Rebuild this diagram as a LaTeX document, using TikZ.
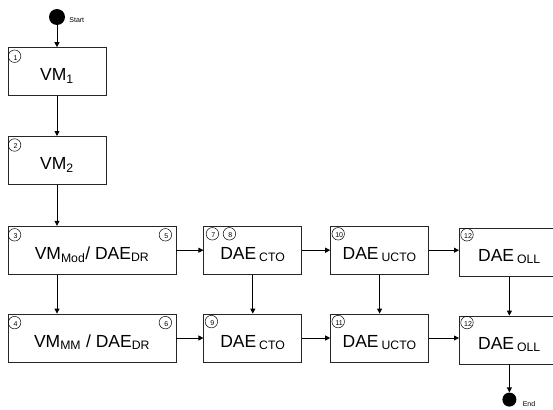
\documentclass[tikz,border=0pt]{standalone}
\usepackage{fontspec}
\setmainfont{Liberation Sans}
\usetikzlibrary{arrows.meta,positioning}

\begin{document}
\begin{tikzpicture}[
  x=1pt, y=1pt,
  font=\fontsize{17.5}{20}\selectfont,
  >={Triangle[length=5pt,width=5pt]},
  stage/.style={draw=black!85, line width=0.8pt, minimum width=98pt,
                minimum height=48pt, inner sep=0pt, text height=18pt, text depth=0pt},
  widestage/.style={stage, minimum width=168pt},
  dot/.style={circle, fill=black, inner sep=0pt, minimum size=16pt},
  flow/.style={->, line width=0.8pt},
  tag/.style={circle, draw, line width=0.5pt, minimum size=12.5pt, inner sep=0pt},
  tagnum/.style={font=\fontsize{7}{8}\selectfont, inner sep=0pt, xshift=1pt, yshift=-1.5pt},
  smalltxt/.style={font=\fontsize{7}{8}\selectfont, inner sep=0pt, anchor=west},
]
\useasboundingbox (0,0) rectangle (553,-409);

% start and the VM column
\node[dot, label={[smalltxt, xshift=4pt, yshift=-3pt]east:Start}] (start) at (57,-17) {};
\node[stage, below=22pt of start] (vm1) {VM\textsubscript{1}};
\node[stage, below=40pt of vm1] (vm2) {VM\textsubscript{2}};
\node[widestage, below=41pt of vm2.south west, anchor=north west] (vmmod)
  {VM\textsubscript{Mod}/ DAE\textsubscript{DR}};
\node[widestage, below=39pt of vmmod] (vmmm)
  {VM\textsubscript{MM} / DAE\textsubscript{DR}};

% upper row
\node[stage, right=27pt of vmmod] (ctoA) {DAE\,\textsubscript{CTO}};
\node[stage, right=28pt of ctoA] (uctoA) {DAE\,\textsubscript{UCTO}};
\node[stage, minimum width=100pt, right=30pt of uctoA, yshift=-2pt] (ollA) {DAE\,\textsubscript{OLL}};

% lower row
\node[stage, right=27pt of vmmm] (ctoB) {DAE\,\textsubscript{CTO}};
\node[stage, right=28pt of ctoB] (uctoB) {DAE\,\textsubscript{UCTO}};
\node[stage, minimum width=100pt, right=30pt of uctoB, yshift=-2pt] (ollB) {DAE\,\textsubscript{OLL}};

\node[dot, minimum size=14pt, label={[smalltxt, xshift=6pt, yshift=-4pt]east:End},
      below=28pt of ollB] (end) {};

% numbered tags
\node[tag, label={[tagnum]center:1}] (t1) at ([xshift=7pt, yshift=-9pt]vm1.north west) {};
\node[tag, label={[tagnum]center:2}] (t2) at ([xshift=7pt, yshift=-9pt]vm2.north west) {};
\node[tag, label={[tagnum]center:3}] (t3) at ([xshift=7pt, yshift=-9pt]vmmod.north west) {};
\node[tag, label={[tagnum]center:5}] (t5) at ([xshift=-11pt, yshift=-9pt]vmmod.north east) {};
\node[tag, label={[tagnum]center:4}] (t4) at ([xshift=7pt, yshift=-9pt]vmmm.north west) {};
\node[tag, label={[tagnum]center:6}] (t6) at ([xshift=-11pt, yshift=-9pt]vmmm.north east) {};
\node[tag, label={[tagnum]center:7}] (t7) at ([xshift=9pt, yshift=-8pt]ctoA.north west) {};
\node[tag, label={[tagnum]center:8}] (t8) at ([xshift=26pt, yshift=-8pt]ctoA.north west) {};
\node[tag, label={[tagnum]center:9}] (t9) at ([xshift=8pt, yshift=-8pt]ctoB.north west) {};
\node[tag, label={[tagnum]center:10}] (t10) at ([xshift=8pt, yshift=-8pt]uctoA.north west) {};
\node[tag, label={[tagnum]center:11}] (t11) at ([xshift=8pt, yshift=-8pt]uctoB.north west) {};
\node[tag, label={[tagnum]center:12}] (t12) at ([xshift=8pt, yshift=-7pt]ollA.north west) {};
\node[tag, label={[tagnum]center:12}] (t12b) at ([xshift=8pt, yshift=-7pt]ollB.north west) {};

% connectors
\draw[flow] (start) -- (vm1);
\draw[flow] (vm1) -- (vm2);
\draw[flow] (vm2) -- (vm2 |- vmmod.north);
\draw[flow] (vm2 |- vmmod.south) -- (vm2 |- vmmm.north);
\draw[flow] (vmmod) -- (ctoA);
\draw[flow] (ctoA) -- (uctoA);
\draw[flow] (uctoA.east) -- (uctoA.east -| ollA.west);
\draw[flow] (vmmm) -- (ctoB);
\draw[flow] (ctoB) -- (uctoB);
\draw[flow] (uctoB.east) -- (uctoB.east -| ollB.west);
\draw[flow] (ctoA) -- (ctoB);
\draw[flow] (uctoA) -- (uctoB);
\draw[flow] (ollA) -- (ollB);
\draw[flow] (ollB) -- (end);
\end{tikzpicture}
\end{document}
